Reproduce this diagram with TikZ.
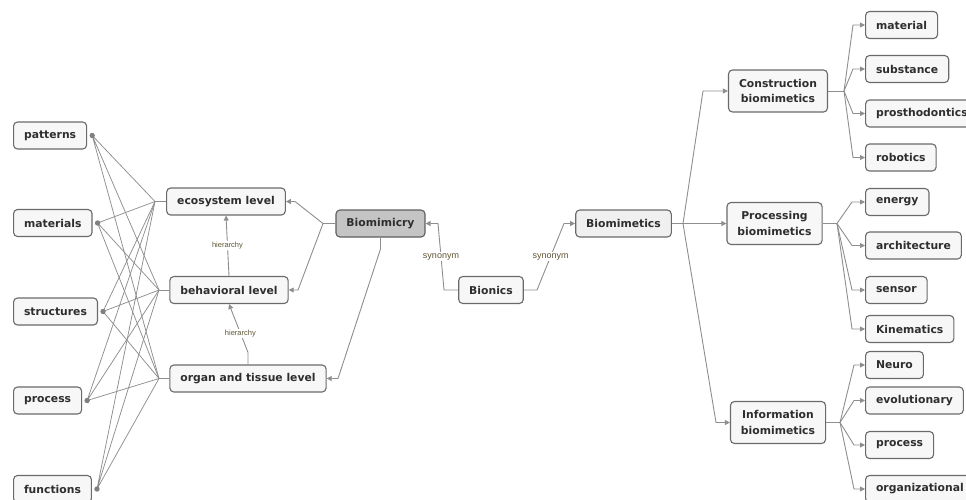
\documentclass[tikz,border=0pt]{standalone}
\usepackage{fontspec}
\setmainfont{DejaVu Sans}
\newfontfamily\lblfont{Liberation Sans}
\usetikzlibrary{arrows.meta}
\definecolor{boxfill}{HTML}{F7F7F7}
\definecolor{boxline}{HTML}{6A6A6A}
\definecolor{txt}{HTML}{2E2E2E}
\definecolor{conn}{HTML}{8E8E8E}
\definecolor{lbl}{HTML}{5E5535}
\definecolor{rootfill}{HTML}{C4C4C4}
\definecolor{bmfill}{HTML}{F0F0F0}
\tikzset{
  topic/.style={draw=boxline, line width=1.1pt, fill=boxfill, rounded corners=4pt,
    text=txt, font=\fontsize{10.8}{15.5}\selectfont\bfseries, inner xsep=10.5pt, inner ysep=0pt,
    minimum height=27pt, align=center},
  twoline/.style={topic, minimum height=42pt},
  root/.style={topic, fill=rootfill, draw=boxline!90!black},
  conn/.style={draw=conn, line width=0.9pt},
  arr/.style={conn, -{Triangle[length=5pt,width=5pt]}},
  lab/.style={fill=white, inner sep=1pt, text=lbl},
  dot/.style={fill=conn!90!black},
}
\begin{document}
\begin{tikzpicture}[x=1pt,y=-1pt]
\useasboundingbox (0,0) rectangle (966,499);

% left column
\node[topic, anchor=west] (patterns) at (13,135.5) {patterns};
\node[topic, anchor=west] (materials) at (13,223) {materials};
\node[topic, anchor=west] (structures) at (13,311.5) {structures};
\node[topic, anchor=west] (process) at (13,400.5) {process};
\node[topic, anchor=west] (functions) at (13,489) {functions};

% levels
\node[topic] (eco) at (226,201.5) {ecosystem level};
\node[topic] (beh) at (229,290) {behavioral level};
\node[topic] (org) at (248,378.5) {organ and tissue level};

% center
\node[root] (bmc) at (380.5,223.5) {Biomimicry};
\node[topic] (bionics) at (491,290) {Bionics};
\node[topic, fill=bmfill] (bmt) at (623.5,223.5) {Biomimetics};

% right branches
\node[twoline] (con) at (778,91) {Construction\\biomimetics};
\node[twoline] (pro) at (774.5,223.5) {Processing\\biomimetics};
\node[twoline] (inf) at (778,422.5) {Information\\biomimetics};

\node[topic, anchor=west] (c1) at (865,25) {material};
\node[topic, anchor=west] (c2) at (865,69) {substance};
\node[topic, anchor=west] (c3) at (865,113.5) {prosthodontics};
\node[topic, anchor=west] (c4) at (865,157.5) {robotics};
\node[topic, anchor=west] (p1) at (865,202) {energy};
\node[topic, anchor=west] (p2) at (865,245.5) {architecture};
\node[topic, anchor=west] (p3) at (865,290) {sensor};
\node[topic, anchor=west] (p4) at (865,329) {Kinematics};
\node[topic, anchor=west] (i1) at (865,365) {Neuro};
\node[topic, anchor=west] (i2) at (865,400.5) {evolutionary};
\node[topic, anchor=west] (i3) at (865,445) {process};
\node[topic, anchor=west] (i4) at (865,489) {organizational};

% junctions
\coordinate (jeco) at (155,201.5);
\coordinate (jbeh) at (159,290);
\coordinate (jorg) at (159,378.5);
\coordinate (jbmc) at (323,223.5);
\coordinate (jbmt) at (683,223.5);
\coordinate (jcon) at (844,91);
\coordinate (jpro) at (837,223.5);
\coordinate (jinf) at (840,422.5);

% left fan
\foreach \n in {patterns,materials,structures,process,functions}{
  \path (\n.east) ++(5,0) coordinate (d\n);
  \draw[conn, line width=0.75pt] (d\n) -- (jeco) (d\n) -- (jbeh) (d\n) -- (jorg);
  \fill[dot] (d\n) circle (2.7);
}
\draw[conn] (jeco) -- (eco.west);
\draw[conn] (jbeh) -- (beh.west);
\draw[conn] (jorg) -- (org.west);

% hierarchy
\draw[arr] (beh.north) -- node[lab, font=\lblfont\fontsize{7.5}{9}\selectfont] {hierarchy} (eco.south);
\draw[arr] (org.north) -- ++(0,-12) -- node[lab, pos=0.4, font=\lblfont\fontsize{7.5}{9}\selectfont] {hierarchy} (beh.south);

% biomimicry to levels
\draw[conn] (bmc.west) -- (jbmc);
\draw[arr] (jbmc) -- (295,201.5) -- (eco.east);
\draw[arr] (jbmc) -- (298,290) -- (beh.east);
\draw[arr] (bmc.south) -- (380.5,249) -- (338,378.5) -- (org.east);

% bionics synonyms
\draw[arr] (bionics.west) -- (444,290) -- node[lab, font=\lblfont\fontsize{9}{10}\selectfont] {synonym} (438,223.5) -- (bmc.east);
\draw[arr] (bionics.east) -- (537,290) -- node[lab, font=\lblfont\fontsize{9}{10}\selectfont] {synonym} (564,223.5) -- (bmt.west);

% biomimetics branches
\draw[conn] (bmt.east) -- (jbmt);
\draw[arr] (jbmt) -- (703,91) -- (con.west);
\draw[arr] (jbmt) -- (pro.west);
\draw[arr] (jbmt) -- (716,422.5) -- (inf.west);

% children
\draw[conn] (con.east) -- (jcon);
\foreach \c in {c1,c2,c3,c4}{
  \draw[arr] (jcon) -- (853,0 |- \c.west) -- (\c.west);
}
\draw[conn] (pro.east) -- (jpro);
\foreach \c in {p1,p2,p3,p4}{
  \draw[arr] (jpro) -- (852,0 |- \c.west) -- (\c.west);
}
\draw[conn] (inf.east) -- (jinf);
\foreach \c in {i1,i2,i3,i4}{
  \draw[arr] (jinf) -- (854,0 |- \c.west) -- (\c.west);
}
\end{tikzpicture}
\end{document}
